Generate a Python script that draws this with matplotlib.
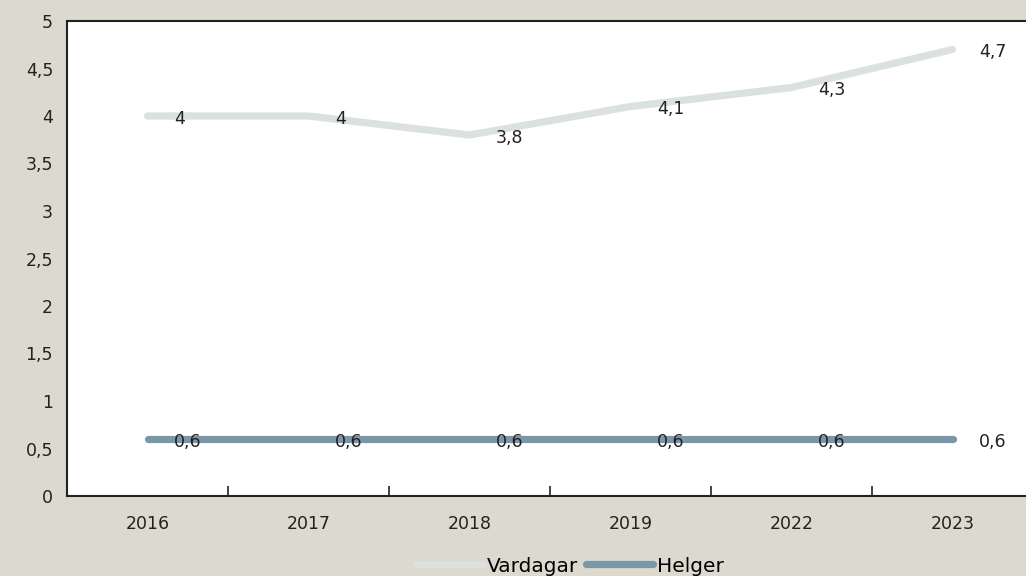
import matplotlib.pyplot as plt

years = ['2016', '2017', '2018', '2019', '2022', '2023']
vardagar = [4, 4, 3.8, 4.1, 4.3, 4.7]
helger = [0.6, 0.6, 0.6, 0.6, 0.6, 0.6]
yticks = [0, 0.5, 1, 1.5, 2, 2.5, 3, 3.5, 4, 4.5, 5]

bg = '#dcd9ce'
c_vard = '#dbe0e0'
c_helg = '#7a97a8'

plt.rcParams['font.family'] = ['DejaVu Sans']

fig = plt.figure(figsize=(10.26, 5.76), dpi=100, facecolor=bg)
ax = fig.add_axes([67/1026, 80/576, 966/1026, 475/576])
ax.set_facecolor('white')

x = list(range(len(years)))
ax.plot(x, vardagar, color=c_vard, lw=5.2, solid_capstyle='round', label='Vardagar')
ax.plot(x, helger, color=c_helg, lw=5.2, solid_capstyle='round', label='Helger')

for i in x:
    ax.annotate(f'{vardagar[i]:g}'.replace('.', ','), (i, vardagar[i]), xytext=(19, -2),
                textcoords='offset points', ha='left', va='center', fontsize=12.5, color='#222222')
    ax.annotate(f'{helger[i]:g}'.replace('.', ','), (i, helger[i]), xytext=(19, -2),
                textcoords='offset points', ha='left', va='center', fontsize=12.5, color='#222222')

ax.set_xlim(-0.5, len(years) - 0.5)
ax.set_ylim(0, 5)
ax.set_yticks(yticks)
ax.set_yticklabels([f'{v:g}'.replace('.', ',') for v in yticks], fontsize=12.5, color='#222222')
ax.tick_params(axis='y', length=0, pad=10)

ax.set_xticks(x)
ax.set_xticklabels(years, fontsize=12.5, color='#222222')
ax.set_xticks([i + 0.5 for i in x[:-1]], minor=True)
ax.tick_params(axis='x', which='major', length=0, pad=14)
ax.tick_params(axis='x', which='minor', direction='in', length=7, width=1.2, color='#222222')

for s in ['left', 'top', 'bottom']:
    ax.spines[s].set_color('#222222')
    ax.spines[s].set_linewidth(1.5)
ax.spines['right'].set_visible(False)

fig.legend(loc='center', bbox_to_anchor=(570/1026, 10/576), ncol=2, frameon=False,
           fontsize=14.5, handlelength=3.3, handletextpad=0.2, columnspacing=0.4)

fig.savefig('out.png', dpi=100, facecolor=bg)
